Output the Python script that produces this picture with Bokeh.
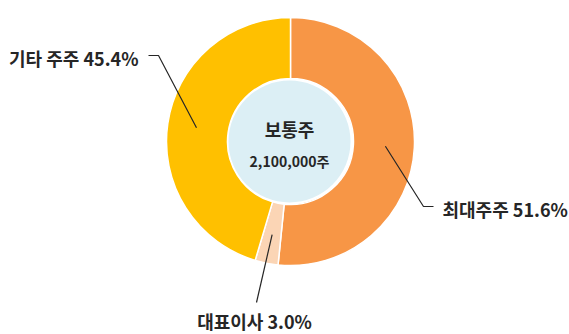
import math

from bokeh.core.properties import value
from bokeh.embed import file_html
from bokeh.models import Range1d
from bokeh.plotting import figure
from bokeh.resources import INLINE

# Shareholding of common stock
holders = ["최대주주", "대표이사", "기타 주주"]
shares_pct = [51.6, 3.0, 45.4]
colors = ["#F79646", "#FBD5B5", "#FFC000"]
center_title = "보통주"
center_total = "2,100,000주"

W, H = 569, 334
FONT = value("Noto Sans CJK KR")
TEXT_COLOR = "#262626"


def sy(y):
    """Convert a top-down pixel row into the plot's upward y coordinate."""
    return H - y


cx, cy = 290, sy(141)
r_outer, r_inner, r_hole = 124, 63, 61

p = figure(width=W, height=H, x_range=Range1d(0, W), y_range=Range1d(0, H),
           x_axis_type=None, y_axis_type=None, toolbar_location=None,
           output_backend="svg", min_border=0)
p.outline_line_color = None
p.grid.visible = False
p.background_fill_color = "white"
p.border_fill_color = "white"

# slices start at 12 o'clock and run clockwise
total = sum(shares_pct)
starts, ends, mids = [], [], []
acc = 0.0
for v in shares_pct:
    a0 = math.pi / 2 - acc / total * 2 * math.pi
    acc += v
    a1 = math.pi / 2 - acc / total * 2 * math.pi
    starts.append(a0)
    ends.append(a1)
    mids.append((a0 + a1) / 2)

p.annular_wedge(x=[cx] * len(holders), y=[cy] * len(holders),
                inner_radius=r_inner, outer_radius=r_outer,
                start_angle=starts, end_angle=ends, direction="clock",
                fill_color=colors, line_color="white", line_width=1.5)

# centre disc
p.circle(x=[cx - 1], y=[cy], radius=r_hole, fill_color="#DCEFF5",
         line_color=None)
p.text(x=[cx - 1], y=[sy(128)], text=[center_title], text_font=FONT,
       text_font_style="bold", text_font_size="18px", text_color=TEXT_COLOR,
       text_align="center", text_baseline="middle")
p.text(x=[cx - 1], y=[sy(160)], text=[center_total], text_font=FONT,
       text_font_style="bold", text_font_size="14px", text_color=TEXT_COLOR,
       text_align="center", text_baseline="middle")

# leader lines and labels
r_anchor = 95
labels = [f"{n} {v:.1f}%" for n, v in zip(holders, shares_pct)]
anchors = [(cx + r_anchor * math.cos(a), cy + r_anchor * math.sin(a)) for a in mids]

# (bend points in screen rows, label position, alignment)
layout = [
    ([(423, 206), (433, 206)], (442, 208), "left"),
    ([(256, 302)], (254, 320), "center"),
    ([(158, 55), (148, 55)], (138, 57), "right"),
]
for (ax, ay), (bends, (tx, ty), align), lab in zip(anchors, layout, labels):
    xs = [ax] + [b[0] for b in bends]
    ys = [ay] + [sy(b[1]) for b in bends]
    p.line(xs, ys, line_color="#262626", line_width=1.2)
    p.text(x=[tx], y=[sy(ty)], text=[lab], text_font=FONT,
           text_font_style="bold", text_font_size="18px", text_color=TEXT_COLOR,
           text_align=align, text_baseline="middle")

open("out.html", "w").write(file_html(p, INLINE))
